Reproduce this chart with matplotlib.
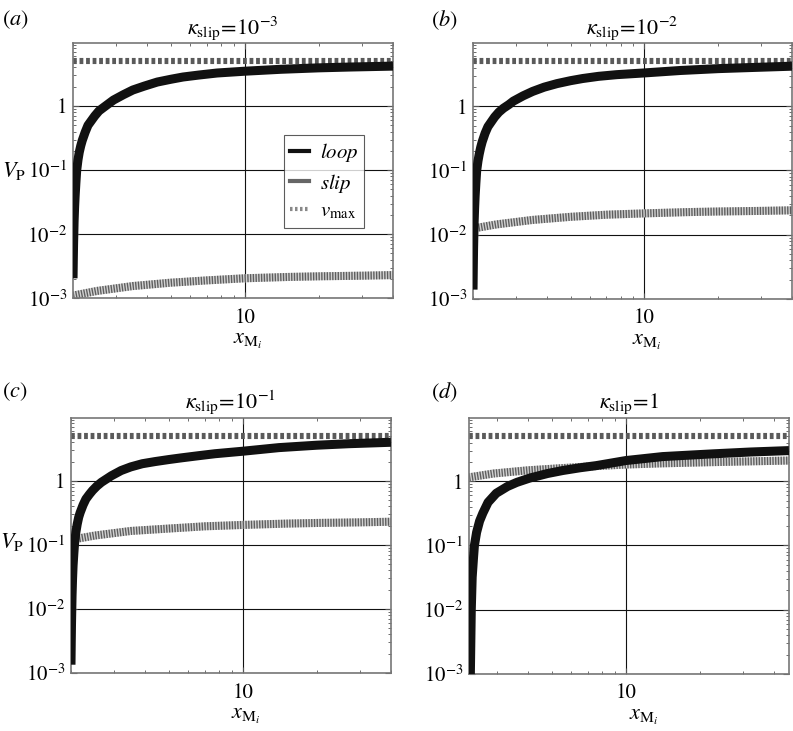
import matplotlib
matplotlib.use('Agg')
import matplotlib.pyplot as plt
from matplotlib.lines import Line2D
from matplotlib.ticker import FixedLocator, FixedFormatter, LogLocator, NullFormatter
import numpy as np

plt.rcParams['font.family'] = ['STIXGeneral', 'DejaVu Serif']
plt.rcParams['mathtext.fontset'] = 'stix'

# panel annotations
panel_tags = ['(a)', '(b)', '(c)', '(d)']
kappa_labels = ['10^{-3}', '10^{-2}', '10^{-1}', '1']
x_ranges = [(2.0, 40.0), (2.0, 40.0), (2.0, 40.0), (2.3, 46.0)]
y_range = (1e-3, 9.6)
v_max = 5.0

y_ticks = [1e-3, 1e-2, 1e-1, 1.0]
y_tick_labels = ['$10^{-3}$', '$10^{-2}$', '$10^{-1}$', '1']

# loop velocity
x_loop_abc = [2.0, 2.005, 2.01, 2.02, 2.03, 2.04, 2.055, 2.07, 2.095, 2.12, 2.15, 2.18, 2.24, 2.3,
              2.38, 2.45, 2.55, 2.66, 2.8, 2.92, 3.2, 3.5, 3.9, 4.4, 5.0, 5.6, 6.5, 7.7, 10, 14, 20, 27, 40]
loop_a = [0.00205, 0.004, 0.007, 0.016, 0.027, 0.04, 0.065, 0.1, 0.145, 0.19, 0.24, 0.29, 0.39, 0.5,
          0.6, 0.7, 0.84, 0.95, 1.1, 1.24, 1.5, 1.78, 2.05, 2.37, 2.62, 2.84, 3.05, 3.28, 3.5, 3.75, 3.95, 4.07, 4.2]
loop_b = [0.0014, 0.003, 0.006, 0.015, 0.026, 0.04, 0.065, 0.1, 0.14, 0.18, 0.23, 0.28, 0.38, 0.48,
          0.58, 0.68, 0.81, 0.93, 1.06, 1.2, 1.45, 1.7, 1.98, 2.25, 2.5, 2.7, 2.92, 3.1, 3.3, 3.6, 3.85, 4.0, 4.2]
loop_c = [0.00135, 0.003, 0.006, 0.016, 0.03, 0.048, 0.075, 0.11, 0.16, 0.21, 0.27, 0.32, 0.42, 0.52,
          0.62, 0.71, 0.83, 0.95, 1.08, 1.2, 1.45, 1.65, 1.85, 2.0, 2.15, 2.28, 2.45, 2.65, 2.9, 3.3, 3.6, 3.8, 4.0]
x_loop_d = [2.31, 2.33, 2.35, 2.37, 2.4, 2.42, 2.47, 2.54, 2.62, 2.75, 2.97, 3.3, 3.6, 4.06, 4.8, 5.54,
            6.5, 7.57, 10, 14.1, 22.6, 32, 46]
loop_d = [0.0005, 0.001, 0.01, 0.032, 0.065, 0.1, 0.16, 0.24, 0.32, 0.47, 0.65, 0.83, 0.96, 1.12, 1.32, 1.47,
          1.62, 1.75, 2.1, 2.42, 2.67, 2.85, 3.0]

# slip velocity
x_slip_abc = [2.0, 2.5, 3.5, 5, 7, 10, 15, 20, 30, 40]
slip_a = [1.1e-3, 1.3e-3, 1.55e-3, 1.75e-3, 1.9e-3, 2.05e-3, 2.15e-3, 2.2e-3, 2.25e-3, 2.3e-3]
slip_b = [1.25e-2, 1.45e-2, 1.7e-2, 1.9e-2, 2.05e-2, 2.15e-2, 2.25e-2, 2.3e-2, 2.35e-2, 2.4e-2]
slip_c = [0.12, 0.14, 0.165, 0.18, 0.195, 0.205, 0.215, 0.22, 0.225, 0.23]
x_slip_d = [2.3, 2.9, 4, 5.5, 7.5, 10, 14, 22, 32, 46]
slip_d = [1.15, 1.32, 1.48, 1.6, 1.72, 1.82, 1.9, 1.98, 2.04, 2.1]

loops = [(x_loop_abc, loop_a), (x_loop_abc, loop_b), (x_loop_abc, loop_c), (x_loop_d, loop_d)]
slips = [(x_slip_abc, slip_a), (x_slip_abc, slip_b), (x_slip_abc, slip_c), (x_slip_d, slip_d)]

fig = plt.figure(figsize=(7.93, 7.31), dpi=100)
rects = [[0.0921, 0.592, 0.4035, 0.349],
         [0.5965, 0.591, 0.4023, 0.350],
         [0.0895, 0.0793, 0.4035, 0.349],
         [0.5914, 0.078, 0.4035, 0.350]]
tag_pos = [(0.003, 0.973), (0.543, 0.973), (0.003, 0.464), (0.543, 0.464)]

for i, rect in enumerate(rects):
    ax = fig.add_axes(rect)
    ax.set_xscale('log')
    ax.set_yscale('log')
    ax.set_xlim(*x_ranges[i])
    ax.set_ylim(*y_range)

    xs, ys = slips[i]
    ax.plot(xs, ys, color='#d2d2d2', lw=5.8, solid_capstyle='butt', zorder=2)
    ax.plot(xs, ys, color='#5e5e5e', lw=5.8, linestyle=(0, (0.17, 0.17)),
            dash_capstyle='butt', zorder=2.1)

    ax.plot(x_ranges[i], [v_max, v_max], color='#5a5a5a', lw=4.4,
            linestyle=(0, (0.62, 0.45)), dash_capstyle='butt', zorder=2.2)

    xl, yl = loops[i]
    ax.plot(xl, yl, color='#111111', lw=6.5, solid_capstyle='butt',
            solid_joinstyle='round', zorder=3)

    ax.xaxis.set_major_locator(FixedLocator([10]))
    ax.xaxis.set_major_formatter(FixedFormatter(['10']))
    ax.xaxis.set_minor_locator(LogLocator(base=10, subs=np.arange(2, 10)))
    ax.xaxis.set_minor_formatter(NullFormatter())
    ax.yaxis.set_major_locator(FixedLocator(y_ticks))
    ax.yaxis.set_major_formatter(FixedFormatter(y_tick_labels))
    ax.yaxis.set_minor_locator(LogLocator(base=10, subs=np.arange(2, 10)))
    ax.yaxis.set_minor_formatter(NullFormatter())

    ax.tick_params(which='both', direction='in', top=True, right=True,
                   color='#555555', labelsize=15)
    ax.tick_params(which='major', length=4, width=0.8)
    ax.tick_params(which='minor', length=2.5, width=0.6)
    ax.tick_params(axis='y', pad=4)
    ax.tick_params(axis='x', pad=7)

    ax.grid(True, which='major', color='#111111', lw=0.8)
    for s in ax.spines.values():
        s.set_color('#777777')
        s.set_linewidth(1.2)

    ax.set_title(r'$\kappa_{\rm slip}\!=\!' + kappa_labels[i] + '$', fontsize=16, pad=7)
    ax.text(0.545, -0.13, r'$x_{{\rm M}_i}$', transform=ax.transAxes,
            ha='center', va='top', fontsize=16)
    if i in (0, 2):
        ax.text(-0.222, 0.5 if i == 0 else 0.515, r'$V_{\rm P}$', transform=ax.transAxes,
                ha='left', va='center', fontsize=16)

    tag = panel_tags[i]
    fig.text(tag_pos[i][0], tag_pos[i][1], '($' + tag[1] + '$)', fontsize=16,
             ha='left', va='center')

    if i == 0:
        handles = [Line2D([], [], color='#111111', lw=3),
                   Line2D([], [], color='#666666', lw=3),
                   Line2D([], [], color='#888888', lw=3, linestyle=(0, (0.6, 0.6)))]
        leg = ax.legend(handles, ['$loop$', '$slip$', r'$v_{\rm max}$'],
                        loc='upper left', bbox_to_anchor=(0.66, 0.64),
                        fontsize=15, frameon=True, fancybox=False,
                        handlelength=0.9, handletextpad=0.5, labelspacing=0.35,
                        borderpad=0.3, borderaxespad=0.0)
        leg.get_frame().set_edgecolor('#333333')
        leg.get_frame().set_linewidth(0.8)

fig.savefig('out.png', dpi=100)
